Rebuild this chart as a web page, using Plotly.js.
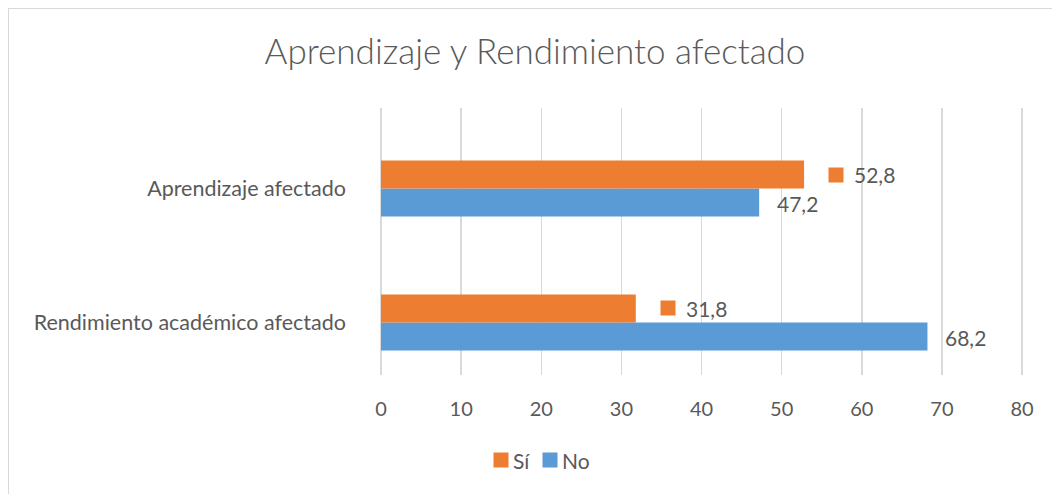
<!DOCTYPE html>
<html><head><meta charset="utf-8">
<script src="https://cdn.plot.ly/plotly-3.0.1.min.js"></script>
<style>
html,body{margin:0;padding:0;background:#fff;overflow:hidden;}
#wrap{position:relative;width:1052px;height:494px;}
#chart{width:1052px;height:494px;}
#frame{position:absolute;left:8px;top:8px;width:1060px;height:500px;border:1.5px solid #D9D9D9;pointer-events:none;}
</style></head>
<body><div id="wrap"><div id="chart"></div><div id="frame"></div></div>
<script>
const categories = ['Rendimiento académico afectado', 'Aprendizaje afectado'];
const siValues = [31.8, 52.8];
const noValues = [68.2, 47.2];
const seriesNames = ['Sí', 'No'];
const seriesColors = ['#ED7D31', '#5B9BD5'];
const xTicks = [0, 10, 20, 30, 40, 50, 60, 70, 80];

const TXT = '#595959';
const FONT = 'Lato, "Open Sans", sans-serif';
const fmt = v => v.toFixed(1).replace('.', ',');

const traces = [
  {type:'bar', orientation:'h', name:seriesNames[1], y:categories, x:noValues,
   marker:{color:seriesColors[1]}, hoverinfo:'skip'},
  {type:'bar', orientation:'h', name:seriesNames[0], y:categories, x:siValues,
   marker:{color:seriesColors[0]}, hoverinfo:'skip'}
];

const annotations = [];
categories.forEach((c, i) => {
  annotations.push({x:siValues[i], y:c, xref:'x', yref:'y', text:' ', showarrow:false,
    xanchor:'left', yanchor:'middle', xshift:24, yshift:14,
    width:14, height:14, bgcolor:seriesColors[0], borderpad:0, font:{size:1}});
  annotations.push({x:siValues[i], y:c, xref:'x', yref:'y', text:fmt(siValues[i]), showarrow:false,
    xanchor:'left', yanchor:'middle', xshift:48, yshift:14,
    font:{family:FONT, size:21, color:TXT}});
  annotations.push({x:noValues[i], y:c, xref:'x', yref:'y', text:fmt(noValues[i]), showarrow:false,
    xanchor:'left', yanchor:'middle', xshift:16, yshift:-15,
    font:{family:FONT, size:21, color:TXT}});
});

const plotL = 377, plotW = 649, plotT = 108, plotH = 267;
const legendItems = [{x:493, name:seriesNames[0], color:seriesColors[0]}, {x:542, name:seriesNames[1], color:seriesColors[1]}];
legendItems.forEach(it => {
  annotations.push({xref:'paper', yref:'paper', x:(it.x - plotL)/plotW, y:(plotT + plotH - 460)/plotH,
    text:' ', showarrow:false, xanchor:'left', yanchor:'middle', width:14, height:14,
    bgcolor:it.color, borderpad:0, font:{size:1}});
  annotations.push({xref:'paper', yref:'paper', x:(it.x + 18 - plotL)/plotW, y:(plotT + plotH - 460)/plotH,
    text:it.name, showarrow:false, xanchor:'left', yanchor:'middle',
    font:{family:FONT, size:21, color:TXT}});
});

const layout = {
  width:1052, height:494,
  margin:{l:plotL, r:1052 - plotL - plotW, t:plotT, b:494 - plotT - plotH},
  paper_bgcolor:'#fff', plot_bgcolor:'#fff',
  title:{text:'Aprendizaje y Rendimiento afectado', xref:'container', yref:'container',
    x:535/1052, xanchor:'center', y:1 - 52/494, yanchor:'middle',
    font:{family:FONT, size:35, color:TXT, weight:300}},
  barmode:'group', bargap:0.582, bargroupgap:0,
  xaxis:{range:[-0.5, 80.5], tickvals:xTicks, ticktext:xTicks.map(String), showgrid:true,
    gridcolor:'#D9D9D9', gridwidth:1.5, zeroline:false, showline:false,
    ticks:'', ticklabelstandoff:20, tickfont:{family:FONT, size:20, color:TXT}, fixedrange:true},
  yaxis:{type:'category', range:[-0.392, 1.601], showgrid:false, zeroline:false, showline:false, ticks:'',
    ticklabelstandoff:30, tickfont:{family:FONT, size:21.5, color:TXT}},
  showlegend:false,
  annotations:annotations
};
Plotly.newPlot('chart', traces, layout, {staticPlot:true});
</script></body></html>
